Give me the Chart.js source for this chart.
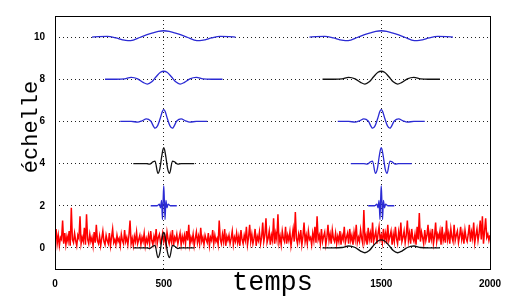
<!DOCTYPE html>
<html>
<head>
<meta charset="utf-8">
<script src="https://cdn.jsdelivr.net/npm/chart.js@4.4.1/dist/chart.umd.min.js"></script>
<style>
  html, body { margin: 0; padding: 0; background: #fff; }
</style>
</head>
<body>
<canvas id="myChart" width="515" height="303"></canvas>
<script>
// axis ticks
const xTicks = [0, 500, 1500, 2000];
const yTicks = [0, 2, 4, 6, 8, 10];

// wavelet shapes (time offset from centre, height above the level)
const offsets10 = [-330, -300, -260, -220, -190, -165, -140, -110, -80, -50, -25, 0, 25, 50, 80, 110, 140, 165, 190, 220, 260, 300, 330];
const values10 = [0, 0.02, 0.03, -0.04, -0.13, -0.17, -0.14, -0.02, 0.1, 0.2, 0.27, 0.3, 0.27, 0.2, 0.1, -0.02, -0.14, -0.17, -0.13, -0.04, 0.03, 0.02, 0];
const offsets8 = [-270, -220, -180, -150, -120, -95, -75, -55, -35, -15, 0, 15, 35, 55, 75, 95, 120, 150, 180, 220, 270];
const values8 = [0, 0, 0.02, 0.09, 0.02, -0.15, -0.23, -0.12, 0.12, 0.33, 0.38, 0.33, 0.12, -0.12, -0.23, -0.15, 0.02, 0.09, 0.02, 0, 0];
const offsets6 = [-200, -150, -120, -100, -80, -60, -40, -28, -16, -6, 0, 6, 16, 28, 40, 60, 80, 100, 120, 150, 200];
const values6 = [0, 0, -0.03, 0.03, 0.12, 0.02, -0.32, -0.2, 0.15, 0.48, 0.56, 0.48, 0.15, -0.2, -0.32, 0.02, 0.12, 0.03, -0.03, 0, 0];
const offsets4 = [-140, -80, -65, -50, -40, -27, -18, -10, -4, 0, 4, 10, 18, 27, 40, 50, 65, 80, 140];
const values4 = [0, 0, -0.03, 0.08, 0.12, -0.46, -0.25, 0.3, 0.65, 0.75, 0.65, 0.3, -0.25, -0.46, 0.12, 0.08, -0.03, 0, 0];
const offsets2 = [-60, -30, -20, -15, -10, -6, -3, 0, 3, 6, 10, 15, 20, 30, 60];
const values2 = [0, 0, 0.08, -0.1, 0.25, -0.65, 0.2, 0.95, 0.2, -0.65, 0.25, -0.1, 0.08, 0, 0];

// which wavelet sits where: [level, centre, shape, colour]
const placements = [
  [10, 500, "w10", "blue"], [10, 1500, "w10", "blue"],
  [8, 500, "w8", "blue"],   [8, 1500, "w8", "black"],
  [6, 500, "w6", "blue"],   [6, 1500, "w6", "blue"],
  [4, 500, "w4", "black"],  [4, 1500, "w4", "blue"],
  [2, 500, "w2", "blue"],   [2, 1500, "w2", "blue"],
  [0, 500, "w4", "black"],  [0, 1500, "w8", "black"],
];

// noisy signal, one sample every 5 time units
const noiseStep = 5;
const noise = [
  0.3, 0.9, 0.2, 0.6, 0.1, 0.5, 0.4, 1.3, 0.2, 0.7, 0.15, 0.55, 0.3, 0.8, 0.1, 1.9, 0.4, 0.25, 0.7, 0.35,
  0.1, 0.6, 0.45, 1.5, 0.2, 0.5, 0.3, 0.95, 0.15, 1.6, 0.4, 0.2, 0.65, 0.3, 0.5, 0.1, 0.75, 0.25, 1.1, 0.35,
  0.2, 0.55, 0.1, 0.45, 0.8, 0.3, 0.15, 0.6, 0.35, 0.2, 0.7, 0.1, 0.5, 0.9, 0.25, 0.4, 0.15, 0.6, 0.3, 0.45,
  0.1, 0.65, 0.35, 0.2, 0.85, 0.3, 0.5, 0.15, 0.6, 1.3, 0.2, 0.45, 0.1, 0.55, 0.3, 0.75, 0.2, 0.4, 0.6, 0.15,
  0.5, 0.3, 0.7, 0.1, 0.45, 0.25, 0.6, 0.2, 0.8, 0.35, 0.15, 0.55, 0.3, 0.9, 0.2, 0.5, 0.65, 0.25, 0.4, 0.7,
  0.3, 0.55, 0.15, 0.75, 0.4, 0.2, 0.6, 0.3, 0.85, 0.1, 0.5, 0.35, 0.65, 0.2, 0.45, 0.7, 0.15, 0.55, 0.3, 0.6,
  0.2, 0.8, 0.35, 1.1, 0.15, 0.5, 0.3, 0.65, 0.1, 0.45, 0.75, 0.25, 0.55, 0.2, 0.95, 0.3, 0.5, 0.15, 0.6, 0.4,
  0.25, 0.7, 0.1, 0.5, 0.35, 0.85, 0.2, 0.6, 0.3, 0.45, 0.15, 1.3, 0.4, 0.2, 0.65, 0.3, 0.9, 0.1, 0.55, 0.35,
  0.6, 0.2, 0.45, 0.8, 0.15, 0.5, 0.3, 0.7, 0.25, 0.55, 0.1, 0.85, 0.4, 0.2, 0.6, 0.35, 1.0, 0.15, 0.5, 1.1,
  0.3, 0.65, 0.2, 0.45, 0.9, 0.1, 0.55, 0.35, 0.75, 0.2, 0.5, 1.2, 0.3, 0.6, 1.4, 0.25, 0.45, 0.8, 0.15, 0.6,
  0.35, 1.4, 0.2, 0.7, 0.4, 1.6, 0.25, 0.55, 0.15, 0.8, 0.45, 0.3, 1.0, 0.2, 0.6, 0.35, 0.75, 0.1, 0.5, 0.9,
  0.3, 1.7, 0.45, 0.2, 0.65, 0.35, 0.85, 0.15, 0.55, 1.2, 0.3, 0.6, 0.2, 0.8, 0.4, 0.5, 0.15, 0.7, 0.35, 1.0,
  0.25, 1.5, 0.4, 0.6, 0.2, 0.9, 0.3, 0.55, 0.75, 0.15, 0.5, 1.1, 0.35, 0.65, 0.2, 0.85, 0.45, 0.3, 0.7, 0.2,
  0.55, 0.3, 0.8, 0.15, 0.6, 0.4, 1.0, 0.25, 0.5, 0.7, 0.2, 0.9, 0.35, 0.6, 0.15, 0.75, 0.4, 1.1, 0.25, 0.5,
  0.3, 0.85, 0.45, 0.2, 1.8, 0.35, 0.6, 0.15, 0.95, 0.4, 0.7, 0.25, 1.2, 0.3, 0.55, 0.8, 0.2, 0.65, 1.0, 0.4,
  0.6, 0.25, 0.9, 0.4, 0.7, 0.2, 1.1, 0.35, 0.55, 0.8, 0.15, 0.65, 0.3, 1.0, 0.45, 0.2, 0.75, 0.35, 1.2, 0.3,
  0.5, 0.8, 0.25, 0.6, 1.3, 0.35, 0.7, 0.2, 0.9, 0.45, 0.3, 0.65, 0.15, 1.0, 0.4, 1.65, 0.3, 0.75, 0.5, 0.2,
  0.85, 0.35, 0.6, 1.1, 0.25, 0.7, 0.4, 0.9, 0.2, 0.55, 1.2, 0.3, 0.65, 0.45, 0.8, 0.15, 1.0, 0.35, 0.6, 0.25,
  1.3, 0.4, 0.7, 0.2, 0.9, 0.5, 0.3, 1.1, 0.35, 0.6, 0.8, 0.25, 0.55, 1.0, 0.4, 0.7, 0.2, 0.85, 0.45, 0.3,
  0.65, 1.1, 0.3, 0.75, 0.45, 1.2, 0.25, 0.6, 0.9, 0.35, 0.7, 1.3, 0.4, 1.5, 0.2, 0.8, 1.4, 0.5, 0.65, 0.35,
  0.6
];

const xTitle = "temps";
const yTitle = "échelle";

const shapes = {
  w10: [offsets10, values10],
  w8: [offsets8, values8],
  w6: [offsets6, values6],
  w4: [offsets4, values4],
  w2: [offsets2, values2],
};
const colours = { blue: "#2b2bd4", black: "#111111" };

const waveSets = placements.map(([level, centre, shape, col]) => {
  const [offs, vals] = shapes[shape];
  return {
    data: offs.map((o, i) => ({ x: centre + o, y: level + vals[i] })),
    borderColor: colours[col],
    borderWidth: 1.3,
    pointRadius: 0,
    cubicInterpolationMode: "monotone",
    order: 1,
  };
});

const noiseSet = {
  data: noise.map((v, i) => ({ x: i * noiseStep, y: v })),
  borderColor: "#ff0000",
  borderWidth: 1.5,
  pointRadius: 0,
  order: 2,
};

const framePlugin = {
  id: "frame",
  afterDraw(chart) {
    const { ctx, chartArea: a } = chart;
    ctx.save();
    ctx.strokeStyle = "#000";
    ctx.lineWidth = 1;
    ctx.strokeRect(a.left + 0.5, a.top + 0.5, a.right - a.left, a.bottom - a.top);
    ctx.fillStyle = "#000";
    ctx.font = '27px "Liberation Mono", "DejaVu Sans Mono", monospace';
    ctx.textAlign = "center";
    ctx.textBaseline = "alphabetic";
    ctx.fillText(xTitle, (a.left + a.right) / 2, 290);
    ctx.font = '22px "Liberation Mono", "DejaVu Sans Mono", monospace';
    ctx.translate(37, 127);
    ctx.rotate(-Math.PI / 2);
    ctx.fillText(yTitle, 0, 0);
    ctx.restore();
  },
};

const tickFont = { family: "Liberation Sans", size: 10, weight: "bold" };

new Chart(document.getElementById("myChart").getContext("2d"), {
  type: "line",
  data: { datasets: [...waveSets, noiseSet] },
  options: {
    responsive: false,
    animation: false,
    layout: { padding: { top: 9, right: 25, left: 0, bottom: 0 } },
    plugins: { legend: { display: false }, tooltip: { enabled: false } },
    scales: {
      x: {
        type: "linear",
        min: 0,
        max: 2000,
        afterBuildTicks: (s) => { s.ticks = xTicks.map((v) => ({ value: v })); },
        afterFit: (s) => { s.height = 34; },
        grid: { color: "#222", lineWidth: 1, drawTicks: false },
        border: { display: false, dash: [1, 3] },
        ticks: {
          font: tickFont, color: "#000", padding: 9, maxRotation: 0, autoSkip: false,
          callback: (v) => String(v),
        },
      },
      y: {
        type: "linear",
        min: -1,
        max: 11,
        afterBuildTicks: (s) => { s.ticks = yTicks.map((v) => ({ value: v })); },
        afterFit: (s) => { s.width = 55; },
        grid: { color: "#222", lineWidth: 1, drawTicks: false },
        border: { display: false, dash: [1, 3] },
        ticks: { font: tickFont, color: "#000", padding: 10, callback: (v) => String(v) },
      },
    },
  },
  plugins: [framePlugin],
});
</script>
</body>
</html>
